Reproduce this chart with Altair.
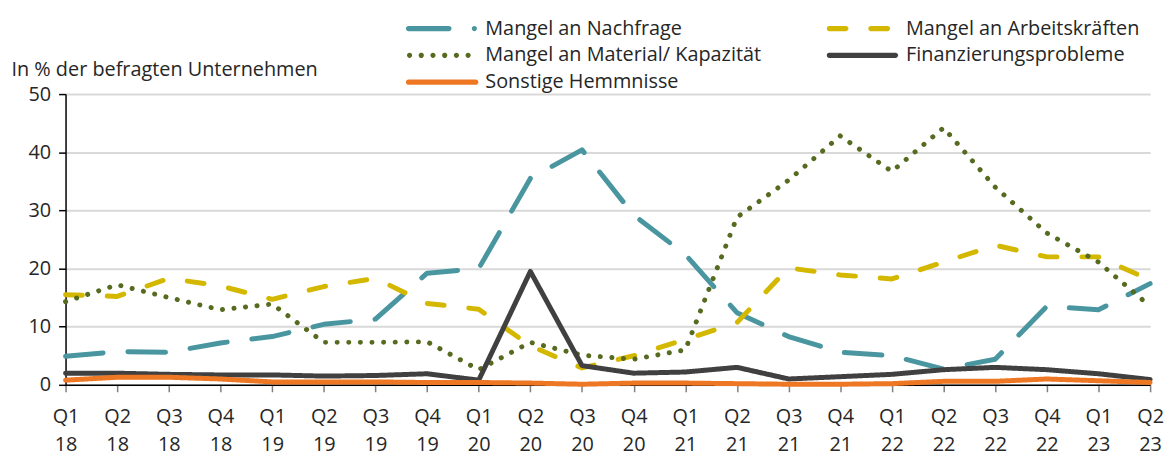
import altair as alt
import pandas as pd

quarters = ["Q1 18", "Q2 18", "Q3 18", "Q4 18", "Q1 19", "Q2 19", "Q3 19", "Q4 19",
            "Q1 20", "Q2 20", "Q3 20", "Q4 20", "Q1 21", "Q2 21", "Q3 21", "Q4 21",
            "Q1 22", "Q2 22", "Q3 22", "Q4 22", "Q1 23", "Q2 23"]

nachfrage = [4.9, 5.7, 5.6, 7.2, 8.3, 10.4, 11.3, 19.2, 20.0, 35.5, 40.4, 29.2,
             22.4, 12.4, 8.3, 5.6, 5.0, 2.7, 4.4, 13.5, 12.9, 17.4]
arbeit = [15.5, 15.2, 18.3, 17.0, 14.7, 16.9, 18.3, 14.0, 13.0, 6.7, 2.9, 5.0,
          7.8, 10.7, 20.1, 18.9, 18.2, 21.1, 24.0, 22.0, 22.0, 18.0]
material = [14.3, 17.2, 15.0, 12.9, 13.9, 7.3, 7.3, 7.4, 2.6, 7.3, 5.1, 4.4,
            6.0, 28.8, 35.2, 42.8, 36.7, 44.2, 34.0, 26.1, 21.1, 13.5]
finanz = [2.0, 2.0, 1.8, 1.7, 1.7, 1.5, 1.6, 1.9, 0.8, 19.5, 3.3, 2.0,
          2.2, 3.0, 1.0, 1.4, 1.8, 2.6, 3.0, 2.6, 1.9, 0.9]
sonstige = [0.8, 1.3, 1.3, 1.0, 0.5, 0.5, 0.5, 0.4, 0.4, 0.3, 0.1, 0.3,
            0.3, 0.2, 0.1, 0.1, 0.2, 0.6, 0.6, 1.0, 0.7, 0.4]

series_names = ["Mangel an Nachfrage", "Mangel an Arbeitskräften",
                "Mangel an Material/ Kapazität", "Finanzierungsprobleme",
                "Sonstige Hemmnisse"]
series_values = [nachfrage, arbeit, material, finanz, sonstige]
colors = ["#4A96A0", "#D4B800", "#566B1F", "#404040", "#EE7724"]
dashes = [[38, 25], [17, 25], [0.1, 11.6], [1, 0], [1, 0]]

rows = []
for name, vals in zip(series_names, series_values):
    for q, v in zip(quarters, vals):
        rows.append({"quarter": q, "series": name, "value": v})
df = pd.DataFrame(rows)

# ---- legend symbol shapes (custom paths in the symbol's unit box) ----
SYM = 35.0  # half length of the symbol in px (size = (2*SYM)^2)
T = 2.6     # half stroke thickness in px


def f(v):
    return f"{v / SYM:.4f}"


def bar(x0, x1):
    a, b = x0 + T, x1 - T
    return (f"M{f(a)},{f(-T)}L{f(b)},{f(-T)}A{f(T)},{f(T)} 0 0 1 {f(b)},{f(T)}"
            f"L{f(a)},{f(T)}A{f(T)},{f(T)} 0 0 1 {f(a)},{f(-T)}Z")


def dot(cx):
    return (f"M{f(cx - T)},0A{f(T)},{f(T)} 0 1 0 {f(cx + T)},0"
            f"A{f(T)},{f(T)} 0 1 0 {f(cx - T)},0Z")


legend_shapes = [
    bar(-35, 11) + dot(34),
    bar(-35, -13) + bar(7, 29),
    "".join(dot(c) for c in [-31.3, -19.5, -7.7, 4.1, 15.9, 27.7]),
    bar(-35, 37),
    bar(-35, 38),
]

FONT = "Open Sans"
legend = alt.Legend(
    title=None, orient="none", legendX=343, legendY=-77, columns=2,
    direction="horizontal", columnPadding=65, rowPadding=5, clipHeight=22,
    symbolSize=(2 * SYM) ** 2, symbolOpacity=1, symbolStrokeWidth=0,
    labelFont=FONT, labelFontSize=20, labelColor="#262626",
    labelOffset=10, padding=0, labelLimit=400,
)

x_enc = alt.X("quarter:O", sort=quarters,
              scale=alt.Scale(type="point", padding=0),
              axis=alt.Axis(title=None, labelExpr="split(datum.label, ' ')", labelAngle=0,
                            labelFont=FONT, labelFontSize=20, labelColor="#262626",
                            labelLineHeight=28, labelBaseline="top", labelPadding=15,
                            tickSize=7, tickColor="#7F7F7F", tickWidth=1.5,
                            domainColor="#000000", domainWidth=1.5, grid=False))
y_enc = alt.Y("value:Q", scale=alt.Scale(domain=[0, 50], nice=False),
              axis=alt.Axis(values=[0, 10, 20, 30, 40, 50], title="In % der befragten Unternehmen",
                            titleAngle=0, titleX=-55, titleY=-19, titleAlign="left",
                            titleBaseline="alphabetic", titleFont=FONT, titleFontSize=20,
                            titleFontWeight="normal", titleColor="#262626",
                            labelFont=FONT, labelFontSize=20, labelColor="#262626",
                            labelPadding=8, tickSize=7, tickColor="#000000", tickWidth=1.5,
                            domainColor="#000000", domainWidth=1.5,
                            grid=True, gridColor="#D9D9D9", gridWidth=2))

base = alt.Chart(df)

layers = []
for name, col, dash in zip(series_names, colors, dashes):
    layers.append(
        base.transform_filter(alt.datum.series == name)
        .mark_line(strokeWidth=5, strokeCap="round", strokeJoin="round",
                   color=col, strokeDash=dash)
        .encode(x=x_enc, y=y_enc)
    )

# empty layer that only carries the legend (custom symbols per series)
legend_layer = base.transform_filter("false").mark_point(filled=True, opacity=1).encode(
    color=alt.Color("series:N", scale=alt.Scale(domain=series_names, range=colors), legend=legend),
    shape=alt.Shape("series:N", scale=alt.Scale(domain=series_names, range=legend_shapes), legend=legend),
)

chart = alt.layer(*layers, legend_layer).properties(
    width=1093, height=293,
    autosize=alt.AutoSizeParams(type="none"),
    padding={"left": 58, "top": 85, "right": 15, "bottom": 70},
).configure_view(stroke=None)

chart.save("out.html", embed_options={"renderer": "svg", "actions": False})
